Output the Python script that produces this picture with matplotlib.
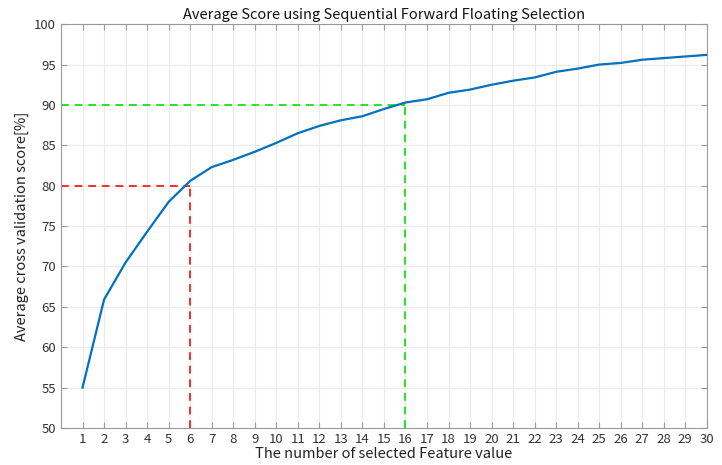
import matplotlib
matplotlib.use("Agg")
import matplotlib.pyplot as plt

plt.rcParams['font.family'] = ['Noto Sans CJK JP', 'DejaVu Sans']

n_features = list(range(1, 31))
scores = [55.0, 65.9, 70.5, 74.3, 78.0, 80.6, 82.3, 83.2, 84.2, 85.3,
          86.5, 87.4, 88.1, 88.6, 89.5, 90.3, 90.7, 91.5, 91.9, 92.5,
          93.0, 93.4, 94.1, 94.5, 95.0, 95.2, 95.6, 95.8, 96.0, 96.2]
ref_red = (6, 80)
ref_green = (16, 90)
x_ticks = list(range(1, 31))
y_ticks = list(range(50, 101, 5))

fig = plt.figure(figsize=(7.22, 4.65), dpi=100)
ax = fig.add_axes([0.0845, 0.0796, 0.8945, 0.8684])

ax.set_xlim(0, 30)
ax.set_ylim(50, 100)
ax.set_xticks(x_ticks)
ax.set_yticks(y_ticks)
ax.set_xticks(range(0, 31), minor=True)
ax.grid(True, which='both', color='#ebebeb', linewidth=0.8)
ax.set_axisbelow(True)

ax.plot(n_features, scores, color='#0072BD', linewidth=1.6, zorder=3)

rx, ry = ref_red
gx, gy = ref_green
ax.plot([0, rx], [ry, ry], color='#ff2a2a', linestyle=(0, (4, 3)), linewidth=1.4, zorder=2)
ax.plot([rx, rx], [50, ry], color='#ff2a2a', linestyle=(0, (4, 3)), linewidth=1.4, zorder=2)
ax.plot([0, gx], [gy, gy], color='#22e622', linestyle=(0, (4, 3)), linewidth=1.4, zorder=2)
ax.plot([gx, gx], [50, gy], color='#22e622', linestyle=(0, (4, 3)), linewidth=1.4, zorder=2)

for s in ax.spines.values():
    s.set_color('#9a9a9a')
    s.set_linewidth(0.8)
ax.tick_params(which='major', direction='in', length=4, top=True, right=True,
               color='#9a9a9a', labelcolor='#333333', labelsize=9.5)
ax.tick_params(which='minor', length=0)

ax.set_title('Average Score using Sequential Forward Floating Selection',
             fontsize=10.5, color='#111111', pad=4)
ax.set_xlabel('The number of selected Feature value', fontsize=10.5, color='#222222', labelpad=1)
ax.set_ylabel('Average cross validation score[%]', fontsize=10.5, color='#222222', labelpad=4)

fig.savefig('out.png', dpi=100)
